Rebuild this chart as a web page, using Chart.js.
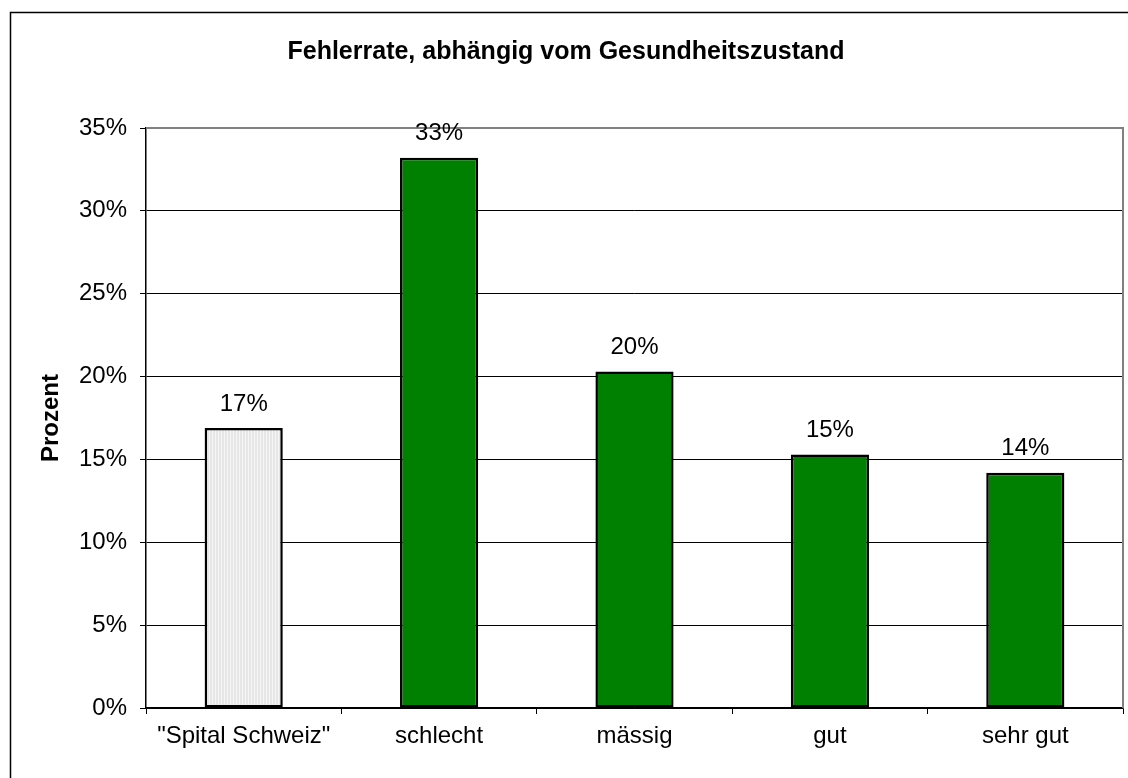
<!DOCTYPE html>
<html>
<head>
<meta charset="utf-8">
<script src="https://cdn.jsdelivr.net/npm/chart.js@4.4.0/dist/chart.umd.min.js"></script>
<style>
  body { margin: 0; background: #fff; }
  #chart { display: block; }
</style>
</head>
<body>
<canvas id="chart" width="1128" height="778"></canvas>
<script>
const categories = ['"Spital Schweiz"', 'schlecht', 'mässig', 'gut', 'sehr gut'];
const errorRate = [16.9, 33.2, 20.3, 15.3, 14.2];
const tickValues = [0, 5, 10, 15, 20, 25, 30, 35];

const chartTitle = 'Fehlerrate, abhängig vom Gesundheitszustand';
const yTitle = 'Prozent';
const fontFamily = 'Arial, "Liberation Sans", sans-serif';

// light grey fill with fine vertical stripes for the first bar
function stripePattern() {
    const c = document.createElement('canvas');
    c.width = 3;
    c.height = 4;
    const g = c.getContext('2d');
    g.fillStyle = '#e6e6e6';
    g.fillRect(0, 0, 3, 4);
    g.fillStyle = '#f6f6f6';
    g.fillRect(2, 0, 1, 4);
    return g.createPattern(c, 'repeat');
}

const ctx = document.getElementById('chart').getContext('2d');
const fills = errorRate.map((v, i) => i === 0 ? stripePattern() : '#008000');

const decorations = {
    id: 'decorations',
    beforeDraw(chart) {
        const c = chart.ctx;
        c.save();
        c.fillStyle = '#fff';
        c.fillRect(0, 0, chart.width, chart.height);
        // outer frame
        c.strokeStyle = '#000';
        c.lineWidth = 1.5;
        c.strokeRect(10.5, 12.5, 1140, 800);
        c.restore();
    },
    afterDraw(chart) {
        const c = chart.ctx;
        const area = chart.chartArea;
        c.save();
        // grey plot frame top and right
        c.strokeStyle = '#808080';
        c.lineWidth = 2;
        c.beginPath();
        c.moveTo(area.left, area.top);
        c.lineTo(area.right, area.top);
        c.lineTo(area.right, area.bottom);
        c.stroke();

        // titles
        c.fillStyle = '#000';
        c.textAlign = 'center';
        c.textBaseline = 'middle';
        c.font = 'bold 25px ' + fontFamily;
        c.fillText(chartTitle, 566, 52);
        c.translate(51, 418);
        c.rotate(-Math.PI / 2);
        c.font = 'bold 24px ' + fontFamily;
        c.fillText(yTitle, 0, 0);
        c.restore();

        // value labels
        c.save();
        c.fillStyle = '#000';
        c.font = '24px ' + fontFamily;
        c.textAlign = 'center';
        c.textBaseline = 'middle';
        chart.getDatasetMeta(0).data.forEach((bar, i) => {
            c.fillText(Math.round(errorRate[i]) + '%', bar.x, bar.y - 24);
        });
        c.restore();
    }
};

new Chart(ctx, {
    type: 'bar',
    data: {
        labels: categories,
        datasets: [{
            data: errorRate,
            backgroundColor: fills,
            borderColor: '#000',
            borderWidth: 2.5,
            borderSkipped: false,
            barPercentage: 0.4,
            categoryPercentage: 1.0
        }]
    },
    options: {
        responsive: false,
        animation: false,
        layout: { padding: { top: 128, right: 5, left: 0, bottom: 0 } },
        plugins: {
            legend: { display: false },
            tooltip: { enabled: false }
        },
        scales: {
            x: {
                afterFit: s => { s.height = 70; },
                grid: {
                    offset: true,
                    drawOnChartArea: false,
                    drawTicks: true,
                    tickLength: 6,
                    color: '#000'
                },
                border: { color: '#000', width: 1.5 },
                ticks: {
                    color: '#000',
                    padding: 8,
                    font: { family: fontFamily, size: 24 }
                }
            },
            y: {
                min: 0,
                max: 35,
                afterFit: s => { s.width = 146; },
                afterBuildTicks: s => { s.ticks = tickValues.map(v => ({ value: v })); },
                grid: {
                    color: '#000',
                    lineWidth: 1,
                    tickLength: 6
                },
                border: { color: '#000', width: 1.5 },
                ticks: {
                    color: '#000',
                    padding: 13,
                    font: { family: fontFamily, size: 24 },
                    callback: v => v + '%'
                }
            }
        }
    },
    plugins: [decorations]
});
</script>
</body>
</html>
